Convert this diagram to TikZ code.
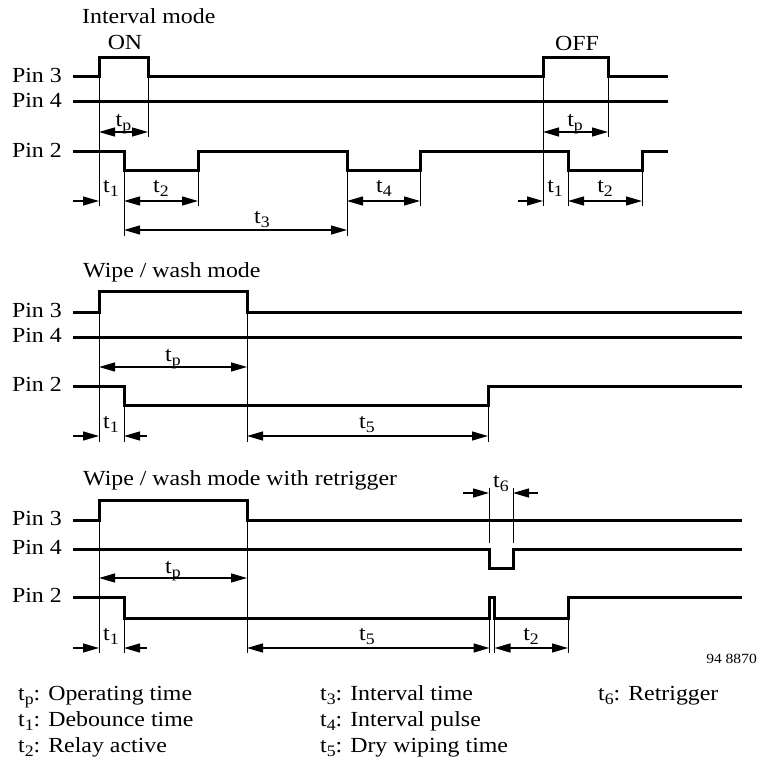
\documentclass[tikz,border=0pt]{standalone}
\usepackage{fontspec}
\setmainfont[FakeStretch=1.11]{Liberation Serif}
\usetikzlibrary{arrows.meta}
\newcommand\tsub[1]{t\raisebox{-4pt}{\fontsize{16}{16}\selectfont #1}}

\begin{document}
\begin{tikzpicture}[x=1pt,y=-1pt,
  sig/.style={line width=3pt,line join=miter},
  ext/.style={line width=0.9pt},
  dim/.style={line width=1.3pt,{Triangle[length=16pt,width=9pt]}-{Triangle[length=16pt,width=9pt]}},
  dimr/.style={line width=1.3pt,-{Triangle[length=16pt,width=9pt]}},
  lbl/.style={font=\fontsize{21.5}{24}\selectfont,inner sep=0pt},
  pinlab/.style={lbl,anchor=base east},
  ttl/.style={lbl,anchor=base west},
  tlab/.style={lbl,anchor=base}]
\useasboundingbox (0,0) rectangle (766,765);

% interval mode
\node[ttl] (titleA) at (82,23.5) {Interval mode};
\node[tlab] (on) at (125,50) {ON};
\node[tlab] (off) at (577,51) {OFF};
\node[pinlab] (a3) at (62,82.5) {Pin 3};
\node[pinlab] (a4) at (62,107.5) {Pin 4};
\node[pinlab] (a2) at (62,157.5) {Pin 2};
\draw[sig] (73,77) -| (99,58) -| (148,77) -- (543,77) |- (608,58) |- (668,77);
\draw[sig] (73,102) -- (668,102);
\draw[sig] (73,152) -| (124,171) -| (198,152) -| (347,171) -| (420,152) -| (568,171) -| (642,152) -- (668,152);
\foreach \x/\ya/\yb in {99/77/206,148/77/137,124/171/236,198/171/206,347/171/236,420/171/206,543/77/206,608/77/137,568/171/206,642/171/206}
  \draw[ext] (\x,\ya) -- (\x,\yb);
\draw[dim] (99,132) -- (148,132);
\draw[dim] (543,132) -- (608,132);
\draw[dimr] (73,201) -- (99,201);
\draw[dim] (124,201) -- (198,201);
\draw[dim] (347,201) -- (420,201);
\draw[dimr] (518,201) -- (543,201);
\draw[dim] (568,201) -- (642,201);
\draw[dim] (124,230) -- (347,230);
\node[tlab] (atp) at (123.5,127) {\tsub{p}};
\node[tlab] (atp2) at (575,127) {\tsub{p}};
\node[tlab] (at1) at (111,193) {\tsub{1}};
\node[tlab] (at2) at (161,193) {\tsub{2}};
\node[tlab] (at4) at (384,193) {\tsub{4}};
\node[tlab] (at1b) at (555,193) {\tsub{1}};
\node[tlab] (at2b) at (605,193) {\tsub{2}};
\node[tlab] (at3) at (262,223) {\tsub{3}};

% wipe / wash mode
\node[ttl] (titleB) at (83,277) {Wipe / wash mode};
\node[pinlab] (b3) at (62,317.5) {Pin 3};
\node[pinlab] (b4) at (62,342.5) {Pin 4};
\node[pinlab] (b2) at (62,391.5) {Pin 2};
\draw[sig] (73,312) -| (99,291) -| (247,312) -- (742,312);
\draw[sig] (73,337) -- (742,337);
\draw[sig] (73,386) -| (124,405) -| (488,386) -- (742,386);
\foreach \x/\ya/\yb in {99/312/442,247/312/442,124/405/442,488/405/442}
  \draw[ext] (\x,\ya) -- (\x,\yb);
\draw[dim] (99,367) -- (247,367);
\draw[dimr] (73,436) -- (99,436);
\draw[dimr] (147,436) -- (124,436);
\draw[dim] (247,436) -- (488,436);
\node[tlab] (btp) at (173,361) {\tsub{p}};
\node[tlab] (bt1) at (111,428) {\tsub{1}};
\node[tlab] (bt5) at (367,428) {\tsub{5}};

% wipe / wash mode with retrigger
\node[ttl] (titleC) at (83,485) {Wipe / wash mode with retrigger};
\node[pinlab] (c3) at (62,525.5) {Pin 3};
\node[pinlab] (c4) at (62,554.5) {Pin 4};
\node[pinlab] (c2) at (62,602.5) {Pin 2};
\draw[sig] (73,520) -| (99,500) -| (247,520) -- (742,520);
\draw[sig] (73,549) -| (489,568) -| (513,549) -- (742,549);
\draw[sig] (73,597) -| (124,618) -| (489.5,597) -| (494.5,618) -| (568,597) -- (742,597);
\foreach \x/\ya/\yb in {99/520/653,247/520/653,124/618/653,489.5/618/653,494.5/618/653,568/618/653,489/488/543,513/488/543}
  \draw[ext] (\x,\ya) -- (\x,\yb);
\draw[dimr] (463,493) -- (489,493);
\draw[dimr] (538,493) -- (513,493);
\draw[dim] (99,578) -- (247,578);
\draw[dimr] (73,648) -- (99,648);
\draw[dimr] (147,648) -- (124,648);
\draw[dim] (247,648) -- (489.5,648);
\draw[dim] (494.5,648) -- (568,648);
\node[tlab] (ct6) at (501,487) {\tsub{6}};
\node[tlab] (ctp) at (173,573) {\tsub{p}};
\node[tlab] (ct1) at (111,640) {\tsub{1}};
\node[tlab] (ct5) at (367,640) {\tsub{5}};
\node[tlab] (ct2) at (531,640) {\tsub{2}};
\node[lbl,font=\fontsize{14}{16}\selectfont,anchor=base east] (fignum) at (757,663) {94 8870};

% legend
\node[ttl] (ltp) at (18,700) {\tsub{p}: Operating time};
\node[ttl] (lt1) at (18,726) {\tsub{1}: Debounce time};
\node[ttl] (lt2) at (18,752) {\tsub{2}: Relay active};
\node[ttl] (lt3) at (320,700) {\tsub{3}: Interval time};
\node[ttl] (lt4) at (320,726) {\tsub{4}: Interval pulse};
\node[ttl] (lt5) at (320,752) {\tsub{5}: Dry wiping time};
\node[ttl] (lt6) at (598,700) {\tsub{6}: Retrigger};
\end{tikzpicture}
\end{document}
